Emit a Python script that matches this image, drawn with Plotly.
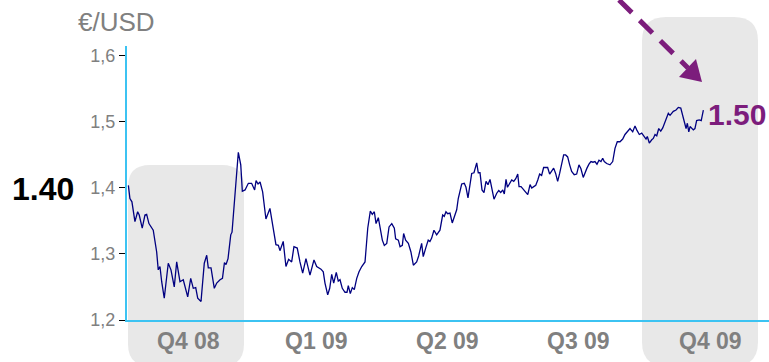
import pandas as pd
import plotly.graph_objects as go

# EUR/USD daily closes, Oct 2008 - Nov 2009 (x = days after 1 Oct 2008)
days = [4.1, 5.2, 6.6, 8.7, 10.6, 11.7, 13.8, 15.7, 16.9, 18.5,
        21.5, 23.9, 25.0, 26.2, 27.4, 29.2, 32.0, 33.9, 36.2, 37.9,
        40.2, 42.5, 45.6, 47.7, 49.5, 51.2, 52.6, 54.9, 57.2, 58.9,
        60.0, 61.9, 64.2, 65.9, 68.2, 69.9, 71.3,
        72.4, 73.8, 75.7, 76.6, 78.0, 79.4, 81.0, 82.7, 83.8, 85.7,
        88.0, 90.3, 92.4, 93.4, 94.8, 96.2, 98.0, 100.3, 103.1, 105.0,
        107.3, 109.0, 110.1, 112.4, 114.3, 116.2, 118.3, 119.9, 122.2, 124.1,
        126.0, 128.3, 129.9, 131.1, 133.9, 135.8,
        138.8, 140.4, 141.6, 143.5, 144.9, 146.3, 147.7, 149.5, 150.9, 152.1,
        153.7, 155.6, 157.0, 157.9, 159.3, 160.7, 162.1, 163.8, 165.4, 167.3,
        169.6, 171.5, 173.3, 174.7, 176.1, 177.3, 178.9, 180.3, 181.7, 183.1,
        184.8, 186.4, 188.3, 190.1, 191.0, 192.9, 194.1, 195.7, 196.6, 198.0,
        199.9, 201.7, 203.4,
        205.7, 207.1, 209.2, 210.3, 212.2, 213.8, 215.0, 216.2, 217.8, 219.7,
        222.0, 223.9, 225.0, 226.2, 227.4, 229.0, 230.6, 232.5, 233.7, 234.8,
        236.0, 237.2, 239.0, 240.2, 241.6, 243.0, 244.2, 245.8, 247.7, 248.8,
        250.0, 251.4, 252.8, 254.2, 255.6, 257.0, 258.2, 259.8, 261.7, 263.1,
        264.5, 265.9, 267.0, 268.2, 269.2, 270.6,
        272.2, 273.6, 275.0, 276.4, 277.3, 278.7, 280.3, 282.0, 283.4, 285.0,
        286.2, 287.6, 289.0, 290.4, 291.7, 293.1, 294.5, 295.9, 297.3, 298.7,
        300.1, 301.5, 302.9, 304.3, 305.7, 307.1, 308.5, 309.9, 311.3, 312.7,
        314.1, 315.9, 317.6, 319.2, 320.6, 322.2, 323.4, 324.8, 326.2, 327.6,
        329.0, 330.4, 331.8, 333.2, 334.6, 335.8, 336.9,
        338.6, 340.9, 342.8, 344.4, 346.0, 347.9, 349.8, 351.4, 353.3, 354.9,
        356.8, 358.4, 359.6, 361.4, 363.1, 364.7, 366.1, 367.0, 368.4, 370.1,
        371.2, 372.4, 373.6, 375.0, 376.4, 377.8, 379.4, 380.6, 381.7, 382.9,
        384.1, 385.2, 387.1, 388.7, 390.4, 391.3, 392.2, 393.1, 394.1, 395.0,
        396.0, 396.9, 398.0, 399.2, 400.3, 401.5, 403.3, 404.7, 406.2]

rates = [1.404, 1.384, 1.379, 1.349, 1.364, 1.359, 1.339, 1.359, 1.360, 1.346,
         1.336, 1.303, 1.276, 1.281, 1.258, 1.233, 1.286, 1.276, 1.250, 1.288,
         1.258, 1.261, 1.235, 1.263, 1.248, 1.249, 1.233, 1.228, 1.286, 1.298,
         1.279, 1.279, 1.248, 1.256, 1.261, 1.263, 1.287,
         1.284, 1.293, 1.329, 1.333, 1.369, 1.415, 1.454, 1.435, 1.395, 1.397,
         1.407, 1.407, 1.397, 1.411, 1.406, 1.409, 1.394, 1.353, 1.369, 1.344,
         1.314, 1.313, 1.305, 1.319, 1.281, 1.292, 1.288, 1.311, 1.309, 1.288,
         1.271, 1.293, 1.276, 1.268, 1.291, 1.281,
         1.277, 1.273, 1.256, 1.238, 1.248, 1.269, 1.256, 1.272, 1.259, 1.261,
         1.248, 1.242, 1.242, 1.252, 1.240, 1.249, 1.246, 1.263, 1.273, 1.281,
         1.288, 1.339, 1.365, 1.360, 1.364, 1.346, 1.355, 1.339, 1.321, 1.313,
         1.316, 1.341, 1.346, 1.339, 1.323, 1.321, 1.311, 1.313, 1.331, 1.321,
         1.316, 1.303, 1.283,
         1.288, 1.297, 1.316, 1.296, 1.310, 1.321, 1.319, 1.324, 1.336, 1.329,
         1.336, 1.359, 1.357, 1.364, 1.361, 1.362, 1.347, 1.359, 1.367, 1.384,
         1.397, 1.406, 1.407, 1.401, 1.385, 1.402, 1.422, 1.423, 1.438, 1.423,
         1.423, 1.397, 1.393, 1.410, 1.405, 1.413, 1.398, 1.383, 1.392, 1.396,
         1.393, 1.397, 1.391, 1.413, 1.401, 1.407,
         1.412, 1.410, 1.414, 1.421, 1.402, 1.402, 1.398, 1.395, 1.390, 1.405,
         1.400, 1.402, 1.404, 1.412, 1.421, 1.419, 1.431, 1.431, 1.431, 1.421,
         1.426, 1.430, 1.422, 1.410, 1.422, 1.435, 1.450, 1.450, 1.447, 1.435,
         1.425, 1.420, 1.421, 1.435, 1.429, 1.416, 1.424, 1.430, 1.436, 1.440,
         1.439, 1.440, 1.436, 1.442, 1.440, 1.445, 1.440,
         1.437, 1.435, 1.440, 1.460, 1.470, 1.470, 1.474, 1.481, 1.486, 1.490,
         1.485, 1.494, 1.488, 1.481, 1.483, 1.478, 1.474, 1.478, 1.468, 1.473,
         1.475, 1.481, 1.479, 1.490, 1.486, 1.491, 1.500, 1.507, 1.513, 1.510,
         1.513, 1.516, 1.518, 1.522, 1.521, 1.513, 1.503, 1.498, 1.490, 1.498,
         1.485, 1.493, 1.490, 1.488, 1.490, 1.502, 1.503, 1.502, 1.518]

quarters = ["Q4 08", "Q1 09", "Q2 09", "Q3 09", "Q4 09"]
quarter_mid_days = [46, 136, 227, 319, 411]
y_ticks = [1.2, 1.3, 1.4, 1.5, 1.6]

start_label = "1.40"
end_label = "1.50"

origin = pd.Timestamp("2008-10-01")
dates = origin + pd.to_timedelta(days, unit="D")
q_dates = origin + pd.to_timedelta(quarter_mid_days, unit="D")

W, H = 769, 362
PL, PT, PW, PH = 127, 46, 642, 274
PURPLE = "#7c1d7c"
AXIS_BLUE = "#3cc3f2"
GREY_TXT = "#808080"
FONT = "Liberation Sans, Arial, sans-serif"


def fx(px):
    return (px - PL) / PW


def fy(py):
    return (PT + PH - py) / PH


def rounded_box(x0, y0, x1, y1, r):
    pts = [("M", [(x0 + r, y0)]), ("L", [(x1 - r, y0)]), ("Q", [(x1, y0), (x1, y0 + r)]),
           ("L", [(x1, y1 - r)]), ("Q", [(x1, y1), (x1 - r, y1)]), ("L", [(x0 + r, y1)]),
           ("Q", [(x0, y1), (x0, y1 - r)]), ("L", [(x0, y0 + r)]), ("Q", [(x0, y0), (x0 + r, y0)])]
    path = ""
    for cmd, coords in pts:
        path += cmd + " " + " ".join(f"{fx(a):.5f},{fy(b):.5f}" for a, b in coords) + " "
    return path + "Z"


fig = go.Figure()
fig.add_trace(go.Scatter(x=dates, y=rates, mode="lines",
                         line=dict(color="#000080", width=1.3),
                         hoverinfo="skip", showlegend=False))

shapes = [
    dict(type="path", path=rounded_box(128, 165, 244, 366, 22), xref="paper", yref="paper",
         fillcolor="#e8e8e8", line=dict(width=0), layer="below"),
    dict(type="path", path=rounded_box(642, 17, 758, 366, 24), xref="paper", yref="paper",
         fillcolor="#e8e8e8", line=dict(width=0), layer="below"),
    # dashed pointer towards the latest quote
    dict(type="line", xref="paper", yref="paper",
         x0=fx(619), y0=fy(0), x1=fx(688), y1=fy(68),
         line=dict(color=PURPLE, width=5, dash="18px,11px")),
    dict(type="path", xref="paper", yref="paper",
         path=f"M {fx(702):.5f},{fy(82):.5f} L {fx(679):.5f},{fy(77):.5f} "
              f"L {fx(696):.5f},{fy(59):.5f} Z",
         fillcolor=PURPLE, line=dict(width=0)),
]

annotations = [
    dict(text="€/USD", x=fx(116), y=fy(22), xref="paper", yref="paper",
         showarrow=False, xanchor="center", yanchor="middle",
         font=dict(family=FONT, size=26, color=GREY_TXT)),
    dict(text=start_label, x=fx(43), y=fy(189), xref="paper", yref="paper",
         showarrow=False, xanchor="center", yanchor="middle",
         font=dict(family=FONT, size=32, color="#000000", weight="bold")),
    dict(text=end_label, x=fx(737), y=fy(115), xref="paper", yref="paper",
         showarrow=False, xanchor="center", yanchor="middle",
         font=dict(family=FONT, size=30, color=PURPLE, weight="bold")),
]
for q, d in zip(quarters, q_dates):
    annotations.append(dict(text=q, x=d, y=fy(341), xref="x", yref="paper",
                            showarrow=False, xanchor="center", yanchor="middle",
                            font=dict(family=FONT, size=23, color=GREY_TXT, weight="bold")))

fig.update_layout(
    width=W, height=H, autosize=False,
    margin=dict(l=PL, r=W - PL - PW, t=PT, b=H - PT - PH, pad=0),
    paper_bgcolor="white", plot_bgcolor="rgba(0,0,0,0)",
    separators=", ",
    shapes=shapes, annotations=annotations,
    xaxis=dict(type="date",
               range=[origin + pd.Timedelta(days=3.15), origin + pd.Timedelta(days=452.1)],
               showgrid=False, zeroline=False, showticklabels=False, ticks="",
               showline=True, linecolor=AXIS_BLUE, linewidth=2.2),
    yaxis=dict(range=[1.2, 1.615], tickvals=y_ticks, tickformat=".1f",
               showgrid=False, zeroline=False,
               showline=True, linecolor=AXIS_BLUE, linewidth=2.2,
               ticks="outside", ticklen=6, tickwidth=1, tickcolor="#000000",
               tickfont=dict(family=FONT, size=18, color=GREY_TXT)),
)

fig.write_html("out.html")
